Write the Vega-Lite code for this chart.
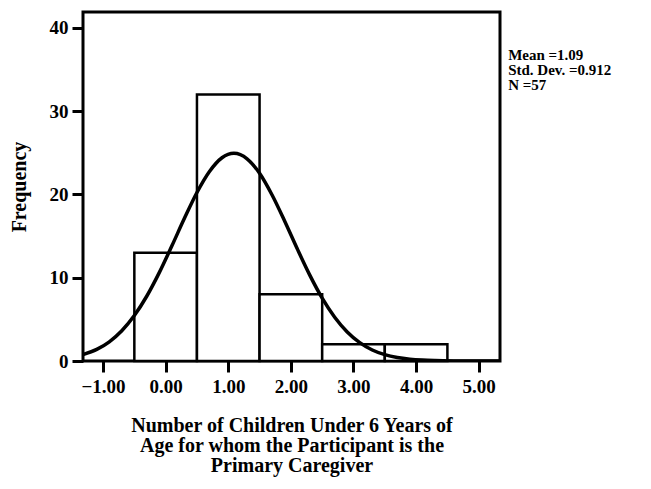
{
  "$schema": "https://vega.github.io/schema/vega-lite/v6.json",
  "width": 417,
  "height": 349,
  "autosize": "none",
  "padding": {"left": 83, "top": 12, "right": 151, "bottom": 128},
  "background": "white",
  "config": {
    "view": {"stroke": "black", "strokeWidth": 3},
    "font": "Liberation Serif",
    "axis": {
      "domain": false,
      "grid": false,
      "ticks": true,
      "tickColor": "black",
      "tickWidth": 3,
      "tickSize": 11,
      "labelFont": "Liberation Serif",
      "labelFontWeight": "bold",
      "labelFontSize": 19,
      "labelColor": "black",
      "titleFont": "Liberation Serif",
      "titleFontWeight": "bold",
      "titleFontSize": 20,
      "titleColor": "black"
    }
  },
  "layer": [
    {
      "data": {
        "values": [
          {"start": -0.5, "end": 0.5, "count": 13},
          {"start": 0.5, "end": 1.5, "count": 32},
          {"start": 1.5, "end": 2.5, "count": 8},
          {"start": 2.5, "end": 3.5, "count": 2},
          {"start": 3.5, "end": 4.5, "count": 2}
        ]
      },
      "mark": {"type": "rect", "fill": "white", "stroke": "black", "strokeWidth": 2.5},
      "encoding": {
        "x": {
          "field": "start",
          "type": "quantitative",
          "scale": {"domain": [-1.32, 5.34], "nice": false, "zero": false},
          "axis": {
            "values": [-1, 0, 1, 2, 3, 4, 5],
            "format": ".2f",
            "labelPadding": 5,
            "title": ["Number of Children Under 6 Years of", "Age for whom the Participant is the", "Primary Caregiver"],
            "titlePadding": 19,
            "titleLineHeight": 20
          }
        },
        "x2": {"field": "end"},
        "y": {
          "field": "count",
          "type": "quantitative",
          "scale": {"domain": [0, 41.9], "nice": false},
          "axis": {
            "values": [0, 10, 20, 30, 40],
            "labelPadding": 4,
            "title": "Frequency",
            "titlePadding": 20
          }
        },
        "y2": {"datum": 0}
      }
    },
    {
      "data": {
        "values": [
          {"x": -1.32, "f": 0.78},
          {"x": -1.1, "f": 1.396},
          {"x": -0.9, "f": 2.306},
          {"x": -0.7, "f": 3.633},
          {"x": -0.5, "f": 5.455},
          {"x": -0.3, "f": 7.804},
          {"x": -0.1, "f": 10.64},
          {"x": 0.1, "f": 13.83},
          {"x": 0.3, "f": 17.13},
          {"x": 0.5, "f": 20.23},
          {"x": 0.7, "f": 22.75},
          {"x": 0.9, "f": 24.4},
          {"x": 1.09, "f": 24.93},
          {"x": 1.3, "f": 24.28},
          {"x": 1.5, "f": 22.54},
          {"x": 1.7, "f": 19.93},
          {"x": 1.9, "f": 16.81},
          {"x": 2.1, "f": 13.5},
          {"x": 2.3, "f": 10.34},
          {"x": 2.5, "f": 7.545},
          {"x": 2.7, "f": 5.249},
          {"x": 2.9, "f": 3.479},
          {"x": 3.1, "f": 2.199},
          {"x": 3.3, "f": 1.323},
          {"x": 3.5, "f": 0.76},
          {"x": 3.7, "f": 0.415},
          {"x": 3.9, "f": 0.216},
          {"x": 4.1, "f": 0.107},
          {"x": 4.3, "f": 0.051},
          {"x": 4.6, "f": 0.015},
          {"x": 5.0, "f": 0.002},
          {"x": 5.34, "f": 0.0}
        ]
      },
      "mark": {"type": "line", "color": "black", "strokeWidth": 3.5, "interpolate": "monotone", "clip": true},
      "encoding": {
        "x": {"field": "x", "type": "quantitative"},
        "y": {"field": "f", "type": "quantitative"}
      }
    },
    {
      "data": {"values": [{"mean": 1.09, "sd": 0.912, "n": 57, "label": "Mean =1.09\nStd. Dev. =0.912\nN =57"}]},
      "mark": {
        "type": "text",
        "align": "left",
        "baseline": "top",
        "lineBreak": "\n",
        "lineHeight": 15,
        "font": "Liberation Serif",
        "fontWeight": "bold",
        "fontSize": 15,
        "color": "black",
        "clip": false
      },
      "encoding": {
        "x": {"datum": 5.47},
        "y": {"datum": 37.6},
        "text": {"field": "label"}
      }
    }
  ]
}
